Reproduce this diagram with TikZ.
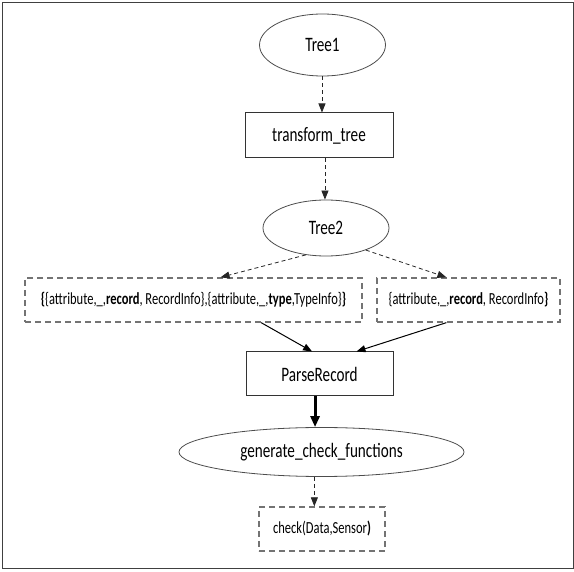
\documentclass[tikz,border=0pt]{standalone}
\usepackage{fontspec}
\setmainfont{Carlito}[FakeStretch=0.74]
\usetikzlibrary{shapes.geometric,arrows.meta,calc}
\begin{document}
\begin{tikzpicture}[x=1pt,y=-1pt,
  ell/.style={ellipse,draw=black!70,line width=0.8pt,inner sep=0pt,font=\fontsize{20.5}{23}\selectfont},
  procbox/.style={rectangle,draw=black!80,line width=1pt,inner sep=0pt,font=\fontsize{20.5}{23}\selectfont},
  dbox/.style={rectangle,draw=black!55,line width=1.3pt,dash pattern=on 6pt off 4pt,inner sep=0pt,font=\fontsize{16.9}{19}\selectfont},
  tip/.style={-{Triangle[length=9pt,width=7pt]}},
  darr/.style={tip,draw=black!85,line width=0.8pt,dash pattern=on 4pt off 3pt},
  sarr/.style={tip,draw=black,line width=1pt},
  barr/.style={-{Triangle[length=11pt,width=9pt]},draw=black,line width=3pt}
]
\useasboundingbox (0,0) rectangle (574,572);
\draw[black!75,line width=1pt] (2,3) rectangle (573,569);

\node[ell,minimum width=126pt,minimum height=62pt] (t1) at (322.5,45) {Tree1};
\node[procbox,minimum width=148pt,minimum height=45pt] (tt) at (319,135.5) {transform\_tree};
\node[ell,minimum width=126pt,minimum height=56pt] (t2) at (326,228) {Tree2};
\node[dbox,minimum width=337pt,minimum height=44pt] (lb) at (193.5,300) {\textbf{\{}\{attribute,\_,\textbf{record}, RecordInfo\},\{attribute,\_,\textbf{type},TypeInfo\}\textbf{\}}};
\node[dbox,minimum width=183pt,minimum height=44pt] (rb) at (468.5,300) {\{attribute,\_,\textbf{record}, RecordInfo\textbf{\}}};
\node[procbox,minimum width=147pt,minimum height=44pt] (pr) at (319.5,374) {ParseRecord};
\node[ell,minimum width=285pt,minimum height=49pt] (gc) at (321.5,452) {generate\_check\_functions};
\node[dbox,minimum width=126pt,minimum height=44pt] (ck) at (322,529) {check(Data,Sensor\textbf{)}};

\coordinate (a1) at ($(tt.north west)!0.52!(tt.north east)$);
\draw[darr] (a1 |- t1.south) -- (a1);
\coordinate (a2) at ($(tt.south west)!0.54!(tt.south east)$);
\draw[darr] (a2) -- (a2 |- t2.north);
\draw[darr] (t2.233) -- ($(lb.north west)!0.58!(lb.north east)$);
\draw[darr] (t2.331) -- ($(rb.north west)!0.38!(rb.north east)$);
\draw[sarr] ($(lb.south west)!0.70!(lb.south east)$) -- ($(pr.north west)!0.45!(pr.north east)$);
\draw[sarr] ($(rb.south west)!0.38!(rb.south east)$) -- ($(pr.north west)!0.75!(pr.north east)$);
\coordinate (a3) at ($(pr.south west)!0.47!(pr.south east)$);
\draw[barr] (a3) -- (a3 |- gc.north);
\coordinate (a4) at ($(ck.north west)!0.44!(ck.north east)$);
\draw[darr] (a4 |- gc.south) -- (a4);
\end{tikzpicture}
\end{document}
